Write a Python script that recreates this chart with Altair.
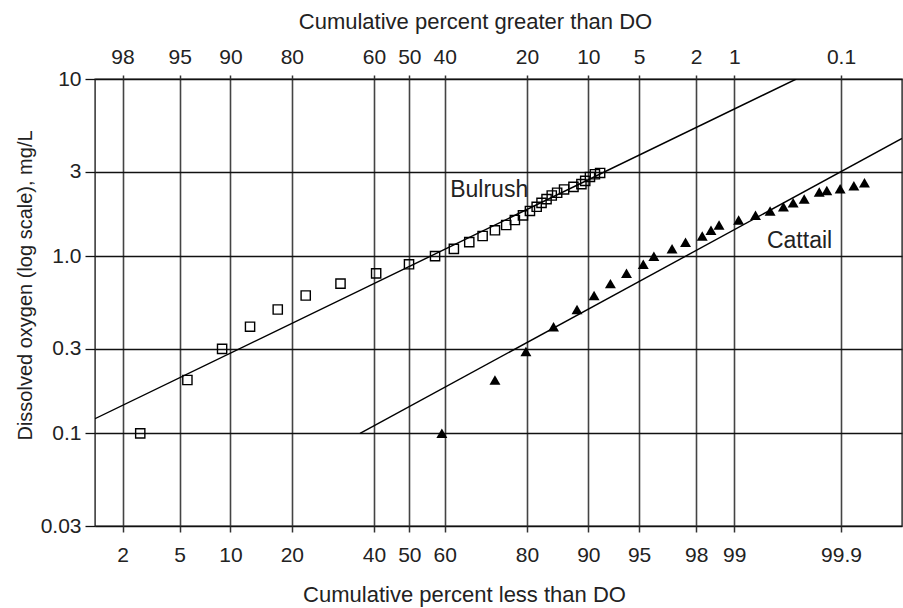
import altair as alt
import pandas as pd
from statistics import NormalDist

# ---------------- data ----------------
bulrush_pct = [2.7, 5.6, 9.0, 12.7, 17.3, 22.9, 31.1, 40.6, 49.9, 57.3,
               62.5, 66.6, 70.0, 73.0, 75.6, 77.5, 79.2, 80.6, 81.9, 82.8,
               83.7, 84.6, 85.5, 86.6, 88.0, 89.1, 89.6, 90.2, 90.8, 91.4]
bulrush_do = [0.10, 0.20, 0.30, 0.40, 0.50, 0.60, 0.70, 0.80, 0.90, 1.00,
              1.10, 1.20, 1.30, 1.40, 1.50, 1.60, 1.70, 1.80, 1.90, 2.00,
              2.10, 2.20, 2.28, 2.38, 2.46, 2.55, 2.66, 2.80, 2.90, 2.95]

cattail_pct = [59.2, 73.0, 79.8, 84.9, 88.5, 90.7, 92.5, 94.0, 95.3, 96.0,
               97.0, 97.6, 98.2, 98.46, 98.67, 99.08, 99.34, 99.51, 99.63, 99.70,
               99.765, 99.833, 99.86, 99.898, 99.927, 99.944]
cattail_do = [0.10, 0.20, 0.29, 0.40, 0.50, 0.60, 0.70, 0.80, 0.90, 1.00,
              1.10, 1.20, 1.30, 1.40, 1.50, 1.60, 1.70, 1.80, 1.90, 2.00,
              2.10, 2.30, 2.35, 2.40, 2.50, 2.60]

bulrush_fit_pct = [1.22, 99.72]
bulrush_fit_do = [0.121, 10.0]
cattail_fit_pct = [36.2, 99.979]
cattail_fit_do = [0.10, 4.62]

label_text = ["Bulrush", "Cattail"]
label_pct = [61.5, 99.477]
label_do = [2.154, 1.11]

less_ticks = [2, 5, 10, 20, 40, 50, 60, 80, 90, 95, 98, 99, 99.9]
do_ticks = [0.03, 0.1, 0.3, 1, 3, 10]

# ---------------- scale helpers ----------------
nd = NormalDist()


def probit(p):
    return nd.inv_cdf(p / 100.0)


x_domain = [probit(1.22), probit(99.979)]
tick_z = [probit(p) for p in less_ticks]

FONT = "Liberation Sans"
TXT = "#222222"
ZCALC = "quantileNormal(datum.pct / 100)"

pts = pd.DataFrame({
    "pct": bulrush_pct + cattail_pct,
    "do": bulrush_do + cattail_do,
    "series": ["Bulrush"] * len(bulrush_pct) + ["Cattail"] * len(cattail_pct),
})
fits = pd.DataFrame({
    "pct": bulrush_fit_pct + cattail_fit_pct,
    "do": bulrush_fit_do + cattail_fit_do,
    "series": ["Bulrush"] * 2 + ["Cattail"] * 2,
})
labels = pd.DataFrame({"pct": label_pct, "do": label_do, "label": label_text})

xscale = alt.Scale(domain=x_domain, nice=False, zero=False)
yscale = alt.Scale(type="log", domain=[0.03, 10], nice=False)

y_axis = alt.Axis(
    values=do_ticks,
    labelExpr="datum.value == 1 ? '1.0' : toString(datum.value)",
    grid=True, gridColor="#111111", gridWidth=1.3,
    ticks=True, tickSize=10, tickColor="#111111", tickWidth=1.3,
    domain=False,
    labelFont=FONT, labelFontSize=21, labelColor=TXT, labelPadding=4,
    labelBaseline="middle",
    title="Dissolved oxygen (log scale), mg/L",
    titleFont=FONT, titleFontSize=20, titleFontWeight="normal", titleColor=TXT,
    titleAngle=270, titleX=-64, titleY=206, titleAlign="center",
    titleBaseline="alphabetic",
)

bottom_axis = alt.Axis(
    orient="bottom",
    values=tick_z,
    labelExpr="toString(round(cumulativeNormal(datum.value) * 1000) / 10)",
    grid=True, gridColor="#444444", gridWidth=1.6,
    ticks=True, tickSize=6, tickColor="#333333", tickWidth=1.5,
    domain=False, labelOverlap=False, labelFlush=False,
    labelFont=FONT, labelFontSize=21, labelColor=TXT,
    labelBaseline="alphabetic", labelPadding=29.7,
    title="Cumulative percent less than DO",
    titleFont=FONT, titleFontSize=22, titleFontWeight="normal", titleColor=TXT,
    titleX=369, titleY=75.7, titleAlign="center", titleBaseline="alphabetic",
)

top_axis = alt.Axis(
    orient="top",
    values=tick_z,
    labelExpr="toString(round((1 - cumulativeNormal(datum.value)) * 1000) / 10)",
    grid=False,
    ticks=True, tickSize=4, tickColor="#333333", tickWidth=1.5,
    domain=False, labelOverlap=False, labelFlush=False,
    labelFont=FONT, labelFontSize=21, labelColor=TXT,
    labelBaseline="alphabetic", labelPadding=11.7,
    title="Cumulative percent greater than DO",
    titleFont=FONT, titleFontSize=22, titleFontWeight="normal", titleColor=TXT,
    titleX=380, titleY=-51, titleAlign="center", titleBaseline="alphabetic",
)

base_pts = alt.Chart(pts).transform_calculate(z=ZCALC)

bulrush_layer = base_pts.transform_filter(alt.datum.series == "Bulrush").mark_point(
    shape="square", filled=False, color="black", size=85, strokeWidth=1.4, opacity=1
).encode(
    x=alt.X("z:Q", scale=xscale, axis=bottom_axis),
    y=alt.Y("do:Q", scale=yscale, axis=y_axis),
)

cattail_layer = base_pts.transform_filter(alt.datum.series == "Cattail").mark_point(
    shape="triangle-up", filled=True, color="black", size=120, opacity=1
).encode(
    x=alt.X("z:Q", scale=xscale, axis=top_axis),
    y=alt.Y("do:Q", scale=yscale, axis=y_axis),
)

fit_layer = alt.Chart(fits).transform_calculate(z=ZCALC).mark_line(
    color="black", strokeWidth=1.4, clip=True
).encode(
    x=alt.X("z:Q", scale=xscale, axis=None),
    y=alt.Y("do:Q", scale=yscale, axis=y_axis),
    detail="series:N",
)

text_layer = alt.Chart(labels).transform_calculate(z=ZCALC).mark_text(
    align="left", baseline="alphabetic", font=FONT, fontSize=23, color=TXT
).encode(
    x=alt.X("z:Q", scale=xscale, axis=None),
    y=alt.Y("do:Q", scale=yscale, axis=y_axis),
    text="label:N",
)

chart = alt.layer(fit_layer, bulrush_layer, cattail_layer, text_layer).resolve_axis(
    x="independent"
).properties(
    width=807,
    height=447,
    autosize=alt.AutoSizeParams(type="none"),
    padding={"left": 95, "top": 79, "right": 1, "bottom": 82},
    background="white",
).configure_view(
    stroke="#222222", strokeWidth=1.4
)

chart.save("out.html", embed_options={"renderer": "svg", "actions": False})
